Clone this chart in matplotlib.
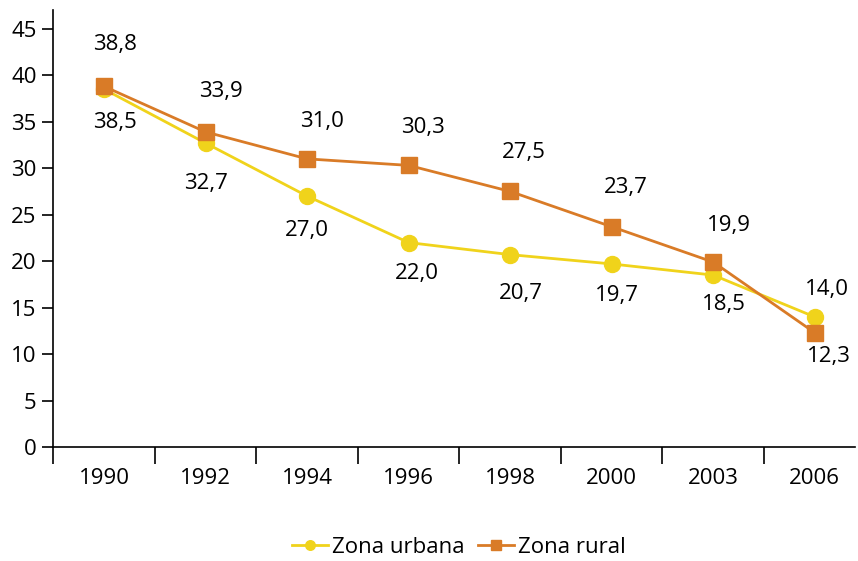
import numpy as np
import matplotlib
matplotlib.use("Agg")
from matplotlib import pyplot as plt
from matplotlib.ticker import FixedLocator

plt.rcParams["font.family"] = ["Open Sans", "DejaVu Sans"]

years = ["1990", "1992", "1994", "1996", "1998", "2000", "2003", "2006"]
urbana = [38.5, 32.7, 27.0, 22.0, 20.7, 19.7, 18.5, 14.0]
rural = [38.8, 33.9, 31.0, 30.3, 27.5, 23.7, 19.9, 12.3]

YELLOW = "#F0D31B"
ORANGE = "#D97B27"

# label offsets in points (dx, dy)
urb_off = [(8, -24), (0, -29), (0, -25), (6, -22), (8, -28), (4, -23), (8, -21), (9, 20)]
rur_off = [(8, 30), (11, 29), (11, 27), (10, 27), (10, 28), (10, 28), (11, 26), (10, -17)]

fig = plt.figure(figsize=(8.58, 5.61), dpi=100)
ax = fig.add_axes([0.062, 0.203, 0.935, 0.779])

x = np.arange(len(years))
ax.plot(x, urbana, color=YELLOW, lw=2, marker="o", ms=11.5, label="Zona urbana", zorder=3)
ax.plot(x, rural, color=ORANGE, lw=2, marker="s", ms=11.5, label="Zona rural", zorder=4)

for i in range(len(years)):
    ax.annotate(f"{urbana[i]:.1f}".replace(".", ","), (x[i], urbana[i]), xytext=urb_off[i],
                textcoords="offset points", ha="center", va="center", fontsize=16)
    ax.annotate(f"{rural[i]:.1f}".replace(".", ","), (x[i], rural[i]), xytext=rur_off[i],
                textcoords="offset points", ha="center", va="center", fontsize=16)

ax.set_xlim(-0.5, 7.4)
ax.set_ylim(0, 47)
ax.yaxis.set_major_locator(FixedLocator(np.arange(0, 46, 5)))
ax.tick_params(axis="y", length=8, width=1.2, pad=4, labelsize=16)

ax.set_xticks(x)
ax.set_xticklabels(years)
ax.tick_params(axis="x", which="major", length=0, pad=15, labelsize=16)
ax.xaxis.set_minor_locator(FixedLocator(np.arange(-0.5, 7.0, 1)))
ax.tick_params(axis="x", which="minor", length=12, width=1.2, direction="out")

for s in ["top", "right"]:
    ax.spines[s].set_visible(False)
for s in ["left", "bottom"]:
    ax.spines[s].set_linewidth(1.2)

fig.legend(loc="lower center", bbox_to_anchor=(0.535, -0.03), ncol=2, frameon=False,
           fontsize=16, handlelength=1.6, columnspacing=0.6, handletextpad=0.2, markerscale=0.6)

fig.savefig("out.png", dpi=100)
